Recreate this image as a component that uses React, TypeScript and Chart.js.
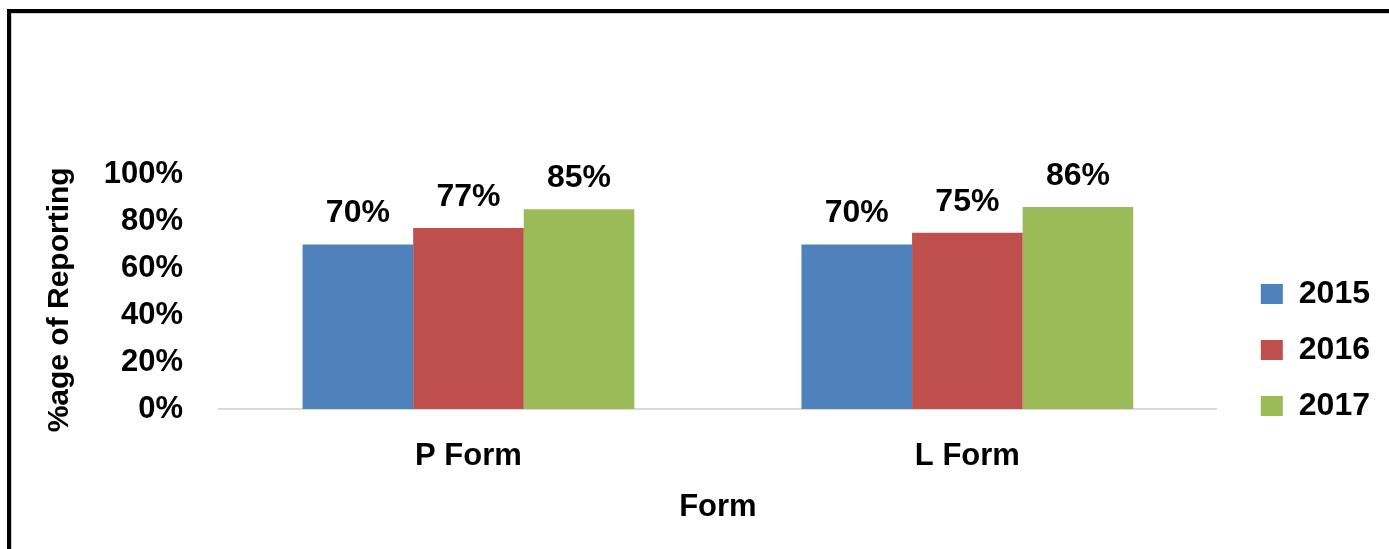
import React, { useEffect, useRef } from "react";
import { Chart, registerables } from "chart.js";

Chart.register(...registerables);

const categories = ["P Form", "L Form"];
const seriesNames = ["2015", "2016", "2017"];
const values2015 = [0.70, 0.70];
const values2016 = [0.77, 0.75];
const values2017 = [0.85, 0.86];
const colors = ["#4F81BD", "#C0504D", "#9BBB59"];
const yTickValues = [0, 0.2, 0.4, 0.6, 0.8, 1.0];

const FONT = "'Liberation Sans', Arial, sans-serif";

const framePlugin = {
  id: "frame",
  beforeDraw(chart: any) {
    const ctx = chart.ctx;
    ctx.save();
    ctx.fillStyle = "#ffffff";
    ctx.fillRect(0, 0, chart.width, chart.height);
    ctx.fillStyle = "#d0d0d0";
    ctx.fillRect(11, 13, 1, chart.height);
    ctx.fillRect(11, 13, chart.width, 1);
    ctx.fillStyle = "#000000";
    ctx.fillRect(7, 9, 4, chart.height);
    ctx.fillRect(7, 9, chart.width, 4);
    ctx.restore();
  },
};

const labelPlugin = {
  id: "barLabels",
  afterDatasetsDraw(chart: any) {
    const ctx = chart.ctx;
    ctx.save();
    ctx.font = `bold 32px ${FONT}`;
    ctx.fillStyle = "#000000";
    ctx.textAlign = "center";
    ctx.textBaseline = "middle";
    chart.data.datasets.forEach((ds: any, i: number) => {
      const meta = chart.getDatasetMeta(i);
      meta.data.forEach((el: any, j: number) => {
        const v = ds.data[j];
        ctx.fillText(Math.round(v * 100) + "%", el.x, el.y - 31);
      });
    });
    ctx.restore();
  },
};

export default function App() {
  const ref = useRef<HTMLCanvasElement>(null);
  useEffect(() => {
    if (!ref.current) return;
    const seriesValues = [values2015, values2016, values2017];
    const chart = new Chart(ref.current, {
      type: "bar",
      data: {
        labels: categories,
        datasets: seriesNames.map((name, i) => ({
          label: name,
          data: seriesValues[i],
          backgroundColor: colors[i],
          borderWidth: 0,
          categoryPercentage: 0.665,
          barPercentage: 1.0,
          yAxisID: "y",
        })),
      },
      options: {
        responsive: false,
        animation: false,
        layout: { padding: { left: 0, top: 174, bottom: 23, right: 9 } },
        plugins: {
          tooltip: { enabled: false },
          legend: {
            position: "right",
            align: "center",
            labels: {
              color: "#000000",
              font: { family: FONT, size: 32, weight: "bold" },
              boxWidth: 22,
              boxHeight: 20,
              padding: 24,
            },
          },
        },
        scales: {
          x: {
            grid: { display: false, drawTicks: false },
            border: { display: true, color: "#D9D9D9", width: 2 },
            ticks: {
              color: "#000000",
              font: { family: FONT, size: 31, weight: "bold" },
              padding: 29,
            },
            title: {
              display: true,
              text: "Form",
              color: "#000000",
              font: { family: FONT, size: 31, weight: "bold" },
              padding: { top: 0, bottom: 0 },
            },
            afterFit(s: any) {
              s.height = 117;
            },
          },
          y: {
            min: 0,
            max: 1,
            grid: { display: false, drawTicks: false },
            border: { display: false },
            afterBuildTicks(s: any) {
              s.ticks = yTickValues.map((v) => ({ value: v }));
            },
            ticks: {
              color: "#000000",
              font: { family: FONT, size: 31, weight: "bold" },
              padding: 36,
              callback: (v: any) => Math.round(Number(v) * 100) + "%",
            },
            title: {
              display: true,
              text: "%age of Reporting  ",
              color: "#000000",
              font: { family: FONT, size: 30, weight: "bold" },
              padding: { top: 42, bottom: 0 },
            },
            afterFit(s: any) {
              s.width = 219;
            },
          },
          y2: {
            position: "right",
            min: 0,
            max: 1,
            display: true,
            grid: { display: false, drawTicks: false },
            border: { display: false },
            ticks: { display: false },
            afterFit(s: any) {
              s.width = 20;
            },
          },
        },
      },
      plugins: [framePlugin, labelPlugin],
    } as any);
    return () => chart.destroy();
  }, []);
  return (
    <canvas
      ref={ref}
      width={1389}
      height={549}
      style={{ position: "fixed", left: 0, top: 0, display: "block" }}
    />
  );
}
